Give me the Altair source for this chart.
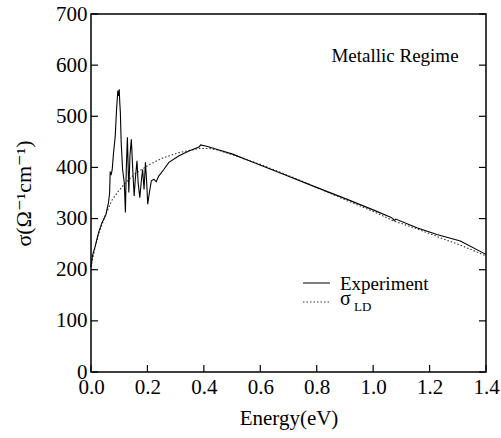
import altair as alt
import pandas as pd

# Experiment (solid) curve
exp_x = [0.000, 0.005, 0.015, 0.027, 0.039, 0.053, 0.062, 0.066, 0.068, 0.071, 0.075, 0.080,
         0.086, 0.090, 0.095, 0.098, 0.100, 0.102, 0.104, 0.107, 0.112, 0.118, 0.122, 0.125,
         0.129, 0.134, 0.138, 0.143, 0.148, 0.153, 0.157, 0.163, 0.167, 0.173, 0.179, 0.183,
         0.188, 0.193, 0.198, 0.201, 0.207, 0.214, 0.223, 0.231, 0.240, 0.258, 0.276, 0.312,
         0.347, 0.383, 0.389, 0.413, 0.442, 0.502, 0.561, 0.680, 0.799, 0.906, 1.000, 1.060,
         1.070, 1.075, 1.080, 1.155, 1.226, 1.309, 1.400]
exp_y = [205, 227, 246, 273, 292, 308, 331, 350, 392, 385, 395, 429,
         462, 508, 550, 540, 553, 527, 508, 449, 396, 370, 312, 396,
         459, 351, 423, 455, 396, 344, 377, 413, 370, 341, 377, 396,
         357, 410, 364, 328, 351, 374, 377, 372, 383, 396, 410, 423,
         432, 440, 444, 441, 436, 426, 413, 387, 361, 338, 317, 303,
         300, 296, 299, 282, 269, 256, 230]

# sigma_LD (dotted) curve
ld_x = [0.000, 0.015, 0.030, 0.050, 0.074, 0.098, 0.122, 0.157, 0.205, 0.252, 0.312, 0.383,
        0.419, 0.450, 0.500, 0.600, 0.700, 0.800, 0.900, 1.000, 1.070, 1.150, 1.230, 1.310, 1.400]
ld_y = [205, 245, 275, 305, 336, 354, 370, 388, 405, 418, 429, 437,
        437, 434, 425, 406, 384, 361, 337, 314, 296, 281, 264, 248, 227]

x_ticks = [0.0, 0.2, 0.4, 0.6, 0.8, 1.0, 1.2, 1.4]
y_ticks = [0, 100, 200, 300, 400, 500, 600, 700]

W, H = 395, 358
FONT = "'Liberation Serif', 'Times New Roman', Times, 'DejaVu Serif', serif"
TL = 7

exp_df = pd.DataFrame({"x": exp_x, "y": exp_y})
ld_df = pd.DataFrame({"x": ld_x, "y": ld_y})
xt_df = pd.DataFrame({"x": x_ticks})
yt_df = pd.DataFrame({"y": y_ticks})

xs = alt.Scale(domain=[0, 1.4], nice=False, zero=False)
ys = alt.Scale(domain=[0, 700], nice=False)

xaxis = alt.Axis(values=x_ticks, format=".1f", labelFont=FONT, labelFontSize=21,
                 labelColor="black", labelPadding=4, labelFlush=False, ticks=False,
                 domain=False, grid=False,
                 title="Energy(eV)", titleFont=FONT, titleFontSize=21, titleFontWeight="normal",
                 titleColor="black", titlePadding=10)
yaxis = alt.Axis(values=y_ticks, format="d", labelFont=FONT, labelFontSize=21,
                 labelColor="black", labelPadding=4, labelFlush=False, ticks=False,
                 domain=False, grid=False,
                 title="σ(Ω⁻¹cm⁻¹)", titleFont=FONT, titleFontSize=22, titleFontWeight="normal",
                 titleColor="black", titlePadding=20)

ld_line = alt.Chart(ld_df).mark_line(color="#333333", strokeWidth=1.1, strokeDash=[1.5, 2]).encode(
    x=alt.X("x:Q", scale=xs, axis=xaxis),
    y=alt.Y("y:Q", scale=ys, axis=yaxis),
)
exp_line = alt.Chart(exp_df).mark_line(color="black", strokeWidth=1.1).encode(
    x=alt.X("x:Q", scale=xs),
    y=alt.Y("y:Q", scale=ys),
)

left_ticks = alt.Chart(yt_df).mark_rule(color="black", strokeWidth=1.2).encode(
    y=alt.Y("y:Q", scale=ys), x=alt.value(0), x2=alt.value(TL))
right_ticks = alt.Chart(yt_df).mark_rule(color="black", strokeWidth=1.2).encode(
    y=alt.Y("y:Q", scale=ys), x=alt.value(W - TL), x2=alt.value(W))
bottom_ticks = alt.Chart(xt_df).mark_rule(color="black", strokeWidth=1.2).encode(
    x=alt.X("x:Q", scale=xs), y=alt.value(H), y2=alt.value(H - TL))

regime = alt.Chart(pd.DataFrame({"t": ["Metallic Regime"]})).mark_text(
    font=FONT, fontSize=19, align="center", baseline="alphabetic", color="black").encode(
    text="t:N", x=alt.value(304), y=alt.value(48))

leg_exp_line = alt.Chart(pd.DataFrame({"a": [0]})).mark_rule(color="black", strokeWidth=1).encode(
    x=alt.value(212), x2=alt.value(239), y=alt.value(269))
leg_ld_line = alt.Chart(pd.DataFrame({"a": [0]})).mark_rule(
    color="#333333", strokeWidth=1, strokeDash=[1.5, 2]).encode(
    x=alt.value(212), x2=alt.value(239), y=alt.value(288))
leg_exp_text = alt.Chart(pd.DataFrame({"t": ["Experiment"]})).mark_text(
    font=FONT, fontSize=19, align="left", baseline="alphabetic", color="black").encode(
    text="t:N", x=alt.value(249), y=alt.value(276))
leg_sigma = alt.Chart(pd.DataFrame({"t": ["σ"]})).mark_text(
    font=FONT, fontSize=20, align="left", baseline="alphabetic", color="black").encode(
    text="t:N", x=alt.value(249), y=alt.value(291))
leg_sub = alt.Chart(pd.DataFrame({"t": ["LD"]})).mark_text(
    font=FONT, fontSize=13, align="left", baseline="alphabetic", color="black").encode(
    text="t:N", x=alt.value(263), y=alt.value(297))

chart = alt.layer(
    ld_line, exp_line, left_ticks, right_ticks, bottom_ticks,
    regime, leg_exp_line, leg_ld_line, leg_exp_text, leg_sigma, leg_sub,
).properties(
    width=W, height=H,
    autosize=alt.AutoSizeParams(type="none"),
    padding={"left": 91, "top": 14, "right": 15, "bottom": 66},
    background="white",
).configure_view(stroke="black", strokeWidth=1.5)

chart.save("out.html", embed_options={"renderer": "svg", "actions": False})
